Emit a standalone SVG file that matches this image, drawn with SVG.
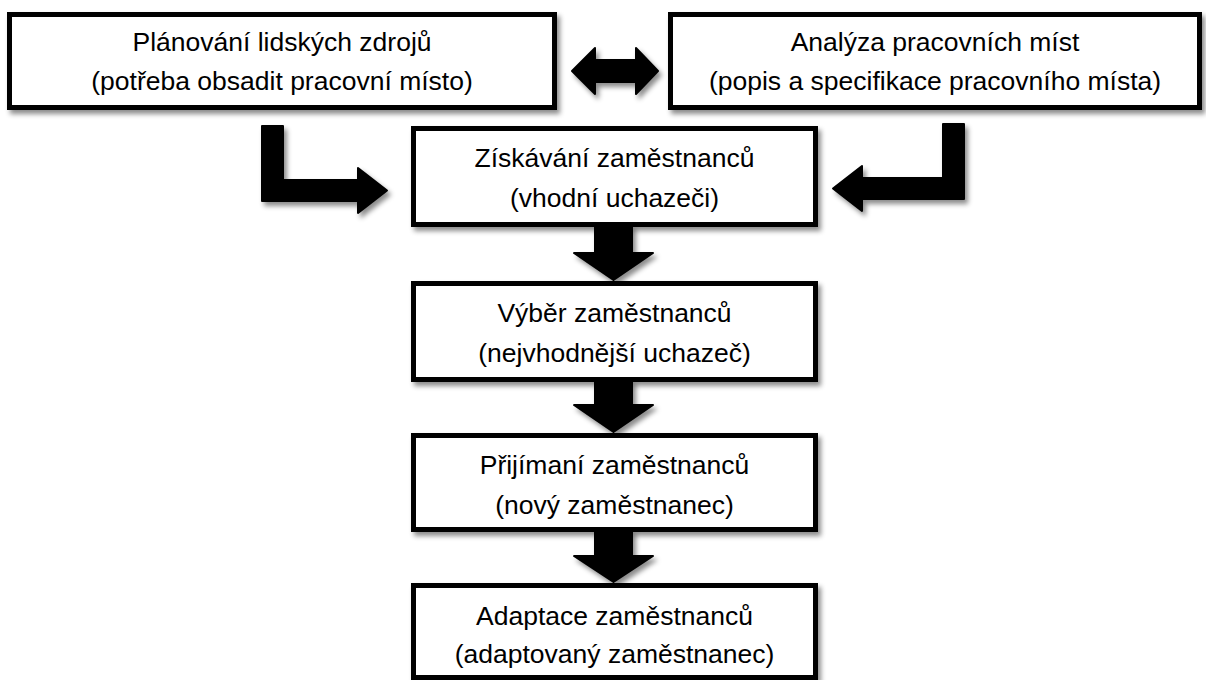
<svg xmlns="http://www.w3.org/2000/svg" width="1206" height="680" viewBox="0 0 1206 680">
  <defs>
    <filter id="sh" x="-20%" y="-20%" width="140%" height="160%">
      <feDropShadow dx="3" dy="4" stdDeviation="2.5" flood-color="#000" flood-opacity="0.45"/>
    </filter>
    <style>
      .box { fill: #fff; stroke: #000; stroke-width: 5; filter: url(#sh); }
      .arr { fill: #000; stroke: #000; stroke-width: 2; stroke-linejoin: round; filter: url(#sh); }
      .t { font-family: "Liberation Sans", Arial, sans-serif; font-size: 26.5px; fill: #000; text-anchor: middle; }
    </style>
  </defs>
  <rect width="1206" height="680" fill="#fff"/>

  <g id="connectors">
    <polygon class="arr" points="572,71 595,48 595,60 636,60 636,48 658,71 636,94 636,82 595,82 595,94"/>
    <polygon class="arr" points="262,126 283,126 283,180 358,180 358,168 387,190.5 358,213 358,201 262,201"/>
    <polygon class="arr" points="964,124 943,124 943,178 862,178 862,166 833,188.5 862,211 862,199 964,199"/>
    <polygon class="arr" points="595,226 632,226 632,253 653,253 613.5,280 574,253 595,253"/>
    <polygon class="arr" points="595,381 632,381 632,405 653,405 613.5,432 574,405 595,405"/>
    <polygon class="arr" points="595,531 632,531 632,556 653,556 613.5,582 574,556 595,556"/>
  </g>

  <g id="planovani">
    <rect class="box" x="9.5" y="14.5" width="545" height="93"/>
    <text class="t" x="282" y="51">Plánování lidských zdrojů</text>
    <text class="t" x="282" y="90">(potřeba obsadit pracovní místo)</text>
  </g>
  <g id="analyza">
    <rect class="box" x="670.5" y="14.5" width="529" height="93"/>
    <text class="t" x="935" y="51">Analýza pracovních míst</text>
    <text class="t" x="935" y="90">(popis a specifikace pracovního místa)</text>
  </g>
  <g id="ziskavani">
    <rect class="box" x="413.5" y="128.5" width="402" height="96"/>
    <text class="t" x="614.5" y="167">Získávání zaměstnanců</text>
    <text class="t" x="614.5" y="207">(vhodní uchazeči)</text>
  </g>
  <g id="vyber">
    <rect class="box" x="413.5" y="283.5" width="402" height="96"/>
    <text class="t" x="614.5" y="322">Výběr zaměstnanců</text>
    <text class="t" x="614.5" y="362">(nejvhodnější uchazeč)</text>
  </g>
  <g id="prijimani">
    <rect class="box" x="413.5" y="435.5" width="402" height="94"/>
    <text class="t" x="614.5" y="474">Přijímaní zaměstnanců</text>
    <text class="t" x="614.5" y="514">(nový zaměstnanec)</text>
  </g>
  <g id="adaptace">
    <rect class="box" x="413.5" y="585.5" width="402" height="92"/>
    <text class="t" x="614.5" y="625">Adaptace zaměstnanců</text>
    <text class="t" x="614.5" y="663">(adaptovaný zaměstnanec)</text>
  </g>
</svg>
